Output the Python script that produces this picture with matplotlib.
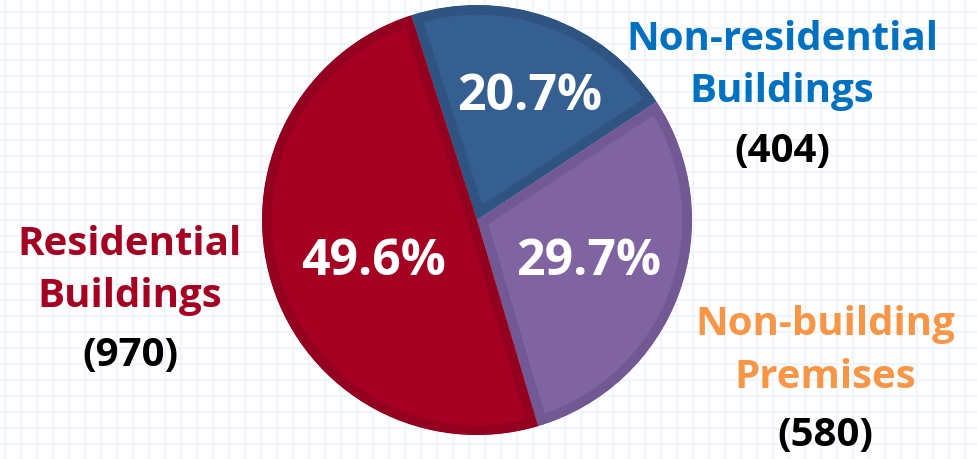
import matplotlib
matplotlib.use("Agg")
import matplotlib.pyplot as plt

# data
kategorije = ["Non-residential\nBuildings", "Non-building\nPremises", "Residential\nBuildings"]
vrednosti = [404, 580, 970]
barve = ["#365f91", "#8064a2", "#a50021"]
robovi = ["#2f5482", "#735993", "#940020"]
barve_napisov = ["#0070c0", "#f79646", "#a50021"]

W, H = 978, 460
fig = plt.figure(figsize=(W / 100, H / 100), dpi=100, facecolor="white")

# ozadje z mrezo
bg = fig.add_axes([0, 0, 1, 1])
bg.set_xlim(0, W)
bg.set_ylim(H, 0)
bg.axis("off")
for x in range(5, W, 16):
    bg.axvline(x, color="#f0f4fb", lw=1.6, zorder=0)
for y in range(13, H, 16):
    bg.axhline(y, color="#f0f4fb", lw=1.6, zorder=0)

# torta
cx, cy, r = 477, 221, 215
ax = fig.add_axes([(cx - r) / W, (H - cy - r) / H, 2 * r / W, 2 * r / H])

skupaj = sum(vrednosti)
wedges, _ = ax.pie(vrednosti, colors=barve, startangle=107.8, counterclock=False,
                   radius=1, center=(0, 0), frame=False)
for w, rob in zip(wedges, robovi):
    w.set_edgecolor(rob)
    w.set_linewidth(14)
    w.set_clip_on(True)
    w.set_clip_path(w)
ax.set_xlim(-1, 1)
ax.set_ylim(-1, 1)
ax.set_aspect("auto")
ax.axis("off")

pisava = ["Open Sans", "DejaVu Sans"]

# odstotki
odst_poz = [(530, 97), (589, 262), (374, 262)]
for v, (px, py) in zip(vrednosti, odst_poz):
    fig.text(px / W, 1 - py / H, f"{v / skupaj * 100:.1f}%", color="white",
             fontsize=36, fontweight="bold", family=pisava,
             ha="center", va="center")

# napisi (vsaka vrstica posebej)
nap_poz = [(782, 40), (825, 325), (130, 245)]
for kat, v, b, (px, py) in zip(kategorije, vrednosti, barve_napisov, nap_poz):
    for i, vrstica in enumerate(kat.split("\n")):
        fig.text(px / W, 1 - (py + 52 * i) / H, vrstica, color=b, fontsize=29,
                 fontweight="bold", family=pisava, ha="center", va="center")
    fig.text(px / W, 1 - (py + 111) / H, f"({v})", color="black", fontsize=29,
             fontweight="bold", family=pisava, ha="center", va="center")

fig.savefig("out.png", dpi=100, facecolor="white")
